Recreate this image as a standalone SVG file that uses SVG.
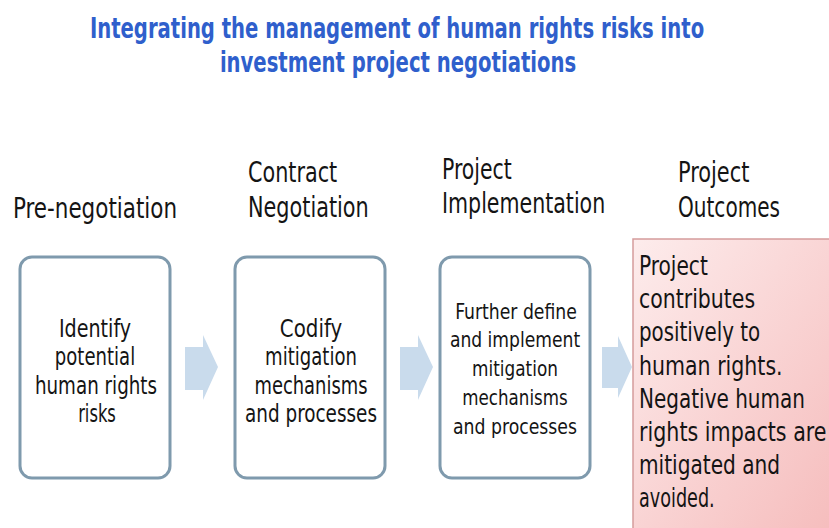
<svg xmlns="http://www.w3.org/2000/svg" width="829" height="528" viewBox="0 0 829 528">
<style>
  text { font-family: "DejaVu Sans Condensed", "DejaVu Sans", sans-serif; fill: #141414; }
  .title { font-size: 28px; font-weight: bold; fill: #2f5fcc; text-anchor: middle; }
  .head { font-size: 28px; }
  .box { fill: #ffffff; stroke: #7f9aad; stroke-width: 3; }
  .bt { font-size: 25px; text-anchor: middle; }
  .bt3 { font-size: 22px; text-anchor: middle; }
  .pt { font-size: 27px; }
  .arrow { fill: #c9dbec; }
</style>
<defs>
  <linearGradient id="pink" x1="0" y1="0" x2="1" y2="1">
    <stop offset="0" stop-color="#fdecec"/>
    <stop offset="1" stop-color="#f5b9b9"/>
  </linearGradient>
</defs>
<rect width="829" height="528" fill="#ffffff"/>

<g id="title">
  <text class="title" transform="translate(397,0) scale(0.75,1)" x="0" y="38" textLength="819" lengthAdjust="spacingAndGlyphs">Integrating the management of human rights risks into</text>
  <text class="title" transform="translate(398,0) scale(0.75,1)" x="0" y="72" textLength="475" lengthAdjust="spacingAndGlyphs">investment project negotiations</text>
</g>

<g id="headers">
  <text class="head" transform="translate(13,0) scale(0.85,1)" x="0" y="218" textLength="193" lengthAdjust="spacingAndGlyphs">Pre-negotiation</text>
  <text class="head" transform="translate(248,0) scale(0.85,1)" x="0" y="182" textLength="105" lengthAdjust="spacingAndGlyphs">Contract</text>
  <text class="head" transform="translate(248,0) scale(0.85,1)" x="0" y="217" textLength="142" lengthAdjust="spacingAndGlyphs">Negotiation</text>
  <text class="head" transform="translate(442,0) scale(0.85,1)" x="0" y="179" textLength="82" lengthAdjust="spacingAndGlyphs">Project</text>
  <text class="head" transform="translate(442,0) scale(0.85,1)" x="0" y="213" textLength="192" lengthAdjust="spacingAndGlyphs">Implementation</text>
  <text class="head" transform="translate(678,0) scale(0.85,1)" x="0" y="182" textLength="84" lengthAdjust="spacingAndGlyphs">Project</text>
  <text class="head" transform="translate(678,0) scale(0.85,1)" x="0" y="217" textLength="120" lengthAdjust="spacingAndGlyphs">Outcomes</text>
</g>

<g id="connectors">
  <polygon class="arrow" points="185,347 203,347 203,335 218,367 203,400 203,390 185,390"/>
  <polygon class="arrow" points="400,347 418,347 418,335 433,367 418,400 418,390 400,390"/>
  <polygon class="arrow" points="602,347 618,347 618,336 632,367 618,398 618,388 602,388"/>
</g>

<g id="node-identify">
  <rect class="box" x="20" y="257" width="150" height="221" rx="12"/>
  <text class="bt" transform="translate(95,0) scale(0.82,1)" x="0" y="337" textLength="88" lengthAdjust="spacingAndGlyphs">Identify</text>
  <text class="bt" transform="translate(95,0) scale(0.82,1)" x="0" y="365" textLength="98" lengthAdjust="spacingAndGlyphs">potential</text>
  <text class="bt" transform="translate(96,0) scale(0.82,1)" x="0" y="394" textLength="149" lengthAdjust="spacingAndGlyphs">human rights</text>
  <text class="bt" transform="translate(97,0) scale(0.82,1)" x="0" y="422" textLength="46" lengthAdjust="spacingAndGlyphs">risks</text>
</g>

<g id="node-codify">
  <rect class="box" x="235" y="257" width="150" height="221" rx="12"/>
  <text class="bt" transform="translate(311,0) scale(0.82,1)" x="0" y="337" textLength="76" lengthAdjust="spacingAndGlyphs">Codify</text>
  <text class="bt" transform="translate(311,0) scale(0.82,1)" x="0" y="365" textLength="112" lengthAdjust="spacingAndGlyphs">mitigation</text>
  <text class="bt" transform="translate(311,0) scale(0.82,1)" x="0" y="394" textLength="138" lengthAdjust="spacingAndGlyphs">mechanisms</text>
  <text class="bt" transform="translate(311,0) scale(0.82,1)" x="0" y="422" textLength="161" lengthAdjust="spacingAndGlyphs">and processes</text>
</g>

<g id="node-implement">
  <rect class="box" x="440" y="257" width="150" height="221" rx="12"/>
  <text class="bt3" transform="translate(516,0) scale(0.78,1)" x="0" y="319" textLength="156" lengthAdjust="spacingAndGlyphs">Further define</text>
  <text class="bt3" transform="translate(515,0) scale(0.78,1)" x="0" y="347" textLength="167" lengthAdjust="spacingAndGlyphs">and implement</text>
  <text class="bt3" transform="translate(515,0) scale(0.78,1)" x="0" y="376" textLength="110" lengthAdjust="spacingAndGlyphs">mitigation</text>
  <text class="bt3" transform="translate(515,0) scale(0.78,1)" x="0" y="405" textLength="135" lengthAdjust="spacingAndGlyphs">mechanisms</text>
  <text class="bt3" transform="translate(515,0) scale(0.78,1)" x="0" y="434" textLength="159" lengthAdjust="spacingAndGlyphs">and processes</text>
</g>

<g id="node-outcomes">
  <rect x="633" y="239" width="220" height="310" fill="url(#pink)" stroke="#d59c9c" stroke-width="1.5"/>
  <g transform="translate(639,0) scale(0.86,1)">
    <text class="pt" x="0" y="275" textLength="80" lengthAdjust="spacingAndGlyphs">Project</text>
    <text class="pt" x="0" y="308" textLength="135" lengthAdjust="spacingAndGlyphs">contributes</text>
    <text class="pt" x="0" y="341" textLength="141" lengthAdjust="spacingAndGlyphs">positively to</text>
    <text class="pt" x="0" y="375" textLength="167" lengthAdjust="spacingAndGlyphs">human rights.</text>
    <text class="pt" x="0" y="408" textLength="193" lengthAdjust="spacingAndGlyphs">Negative human</text>
    <text class="pt" x="0" y="441" textLength="218" lengthAdjust="spacingAndGlyphs">rights impacts are</text>
    <text class="pt" x="0" y="474" textLength="164" lengthAdjust="spacingAndGlyphs">mitigated and</text>
    <text class="pt" x="0" y="507" textLength="88" lengthAdjust="spacingAndGlyphs">avoided.</text>
  </g>
</g>
</svg>
